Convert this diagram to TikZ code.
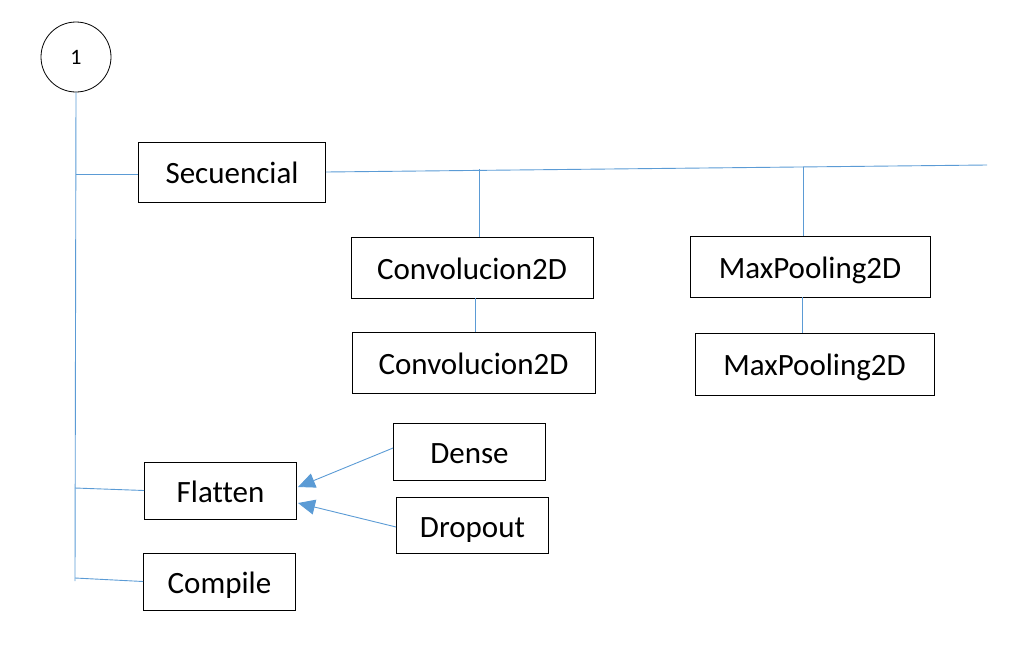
\documentclass[tikz,border=0pt]{standalone}
\usepackage{fontspec}
\setmainfont{Carlito}[Ligatures=NoCommon]
\usetikzlibrary{arrows.meta}
\definecolor{linkblue}{HTML}{5B9BD5}
\tikzset{
  box/.style={draw=black, line width=0.9pt, inner sep=0pt, text height=23pt, text depth=0pt, font=\fontsize{31}{36}\selectfont},
  link/.style={draw=linkblue, line width=0.9pt},
  arr/.style={link, -{Triangle[length=17pt,width=15pt]}}
}
\begin{document}
\begin{tikzpicture}[x=1pt,y=-1pt]
\useasboundingbox (0,0) rectangle (1009,656);
\node[draw=black, line width=0.8pt, circle, minimum size=70pt, inner sep=0pt, font=\fontsize{22}{26}\selectfont] (one) at (76,57) {1};
\node[box, minimum width=187pt, minimum height=60pt] (sec) at (232,172) {Secuencial};
\node[box, minimum width=242pt, minimum height=61pt] (conv1) at (472,267.5) {Convolucion2D};
\node[box, minimum width=243pt, minimum height=61pt] (conv2) at (473.5,362.5) {Convolucion2D};
\node[box, minimum width=240pt, minimum height=61pt] (mp1) at (810,266.5) {MaxPooling2D};
\node[box, minimum width=239pt, minimum height=62pt] (mp2) at (814.5,364) {MaxPooling2D};
\node[box, minimum width=152pt, minimum height=57pt] (dense) at (469.5,451.5) {Dense};
\node[box, minimum width=152pt, minimum height=56pt] (drop) at (472.5,525.5) {Dropout};
\node[box, minimum width=152pt, minimum height=57pt] (flat) at (220.5,490.5) {Flatten};
\node[box, minimum width=152pt, minimum height=57pt] (comp) at (219.5,581.5) {Compile};
% trunk
\coordinate (trunkend) at (75,581);
\coordinate (tsec) at (76,174);
\coordinate (tflat) at (75,488);
\coordinate (tcomp) at (75,578);
\draw[link] (one.south) -- (trunkend);
\draw[link] (tsec) -- (tsec -| sec.west);
\draw[link] (tflat) -- (flat.west);
\draw[link] (tcomp) -- (comp.west);
% top bus
\coordinate (busend) at (987,165);
\draw[link] (sec.east) -- (busend);
\coordinate (bc) at (479,169.3);
\coordinate (bm) at (803,166.8);
\draw[link] (bc) -- (bc |- conv1.north);
\draw[link] (bm) -- (bm |- mp1.north);
\coordinate (xc) at (475,0);
\coordinate (xm) at (802,0);
\draw[link] (conv1.south -| xc) -- (conv2.north -| xc);
\draw[link] (mp1.south -| xm) -- (mp2.north -| xm);
% arrows
\coordinate (fa) at (298,487);
\coordinate (fb) at (298,503);
\draw[arr] (dense.west |- 0,448) -- (fa);
\draw[arr] (drop.west |- 0,527) -- (fb);
\end{tikzpicture}
\end{document}
